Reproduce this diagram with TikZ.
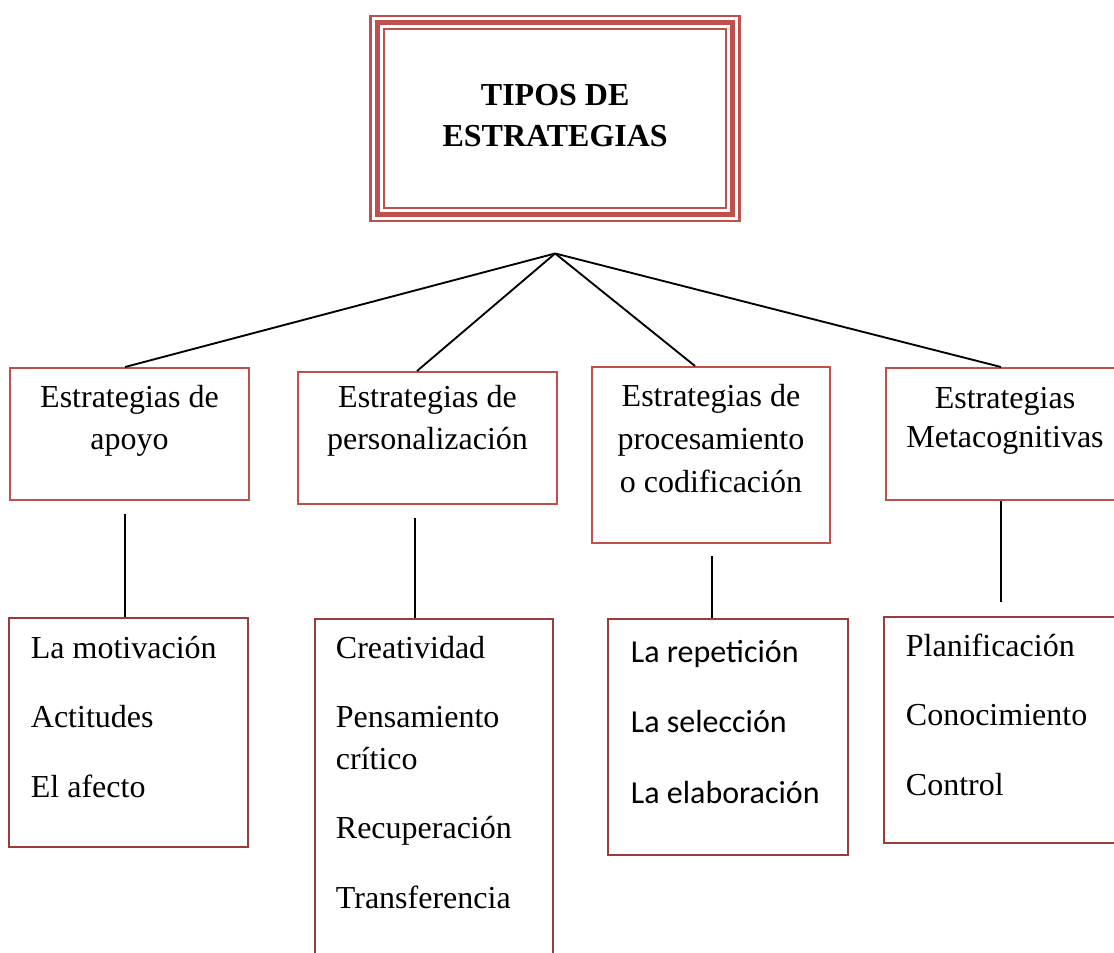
\documentclass[tikz,border=0pt]{standalone}
\usepackage{fontspec}
\setmainfont{Liberation Serif}
\newfontfamily\calibri{Carlito}
\usetikzlibrary{positioning,calc,fit}
\definecolor{boxred}{HTML}{C0504D}
\definecolor{darkred}{HTML}{983C3C}

\begin{document}
\begin{tikzpicture}[x=0.375pt, y=-0.375pt, line width=0.7pt, font=\fontsize{12}{15.5}\selectfont]
\tikzstyle{kind}=[draw=boxred, line width=0.75pt, rectangle, inner sep=0pt]
\tikzstyle{items}=[draw=darkred, line width=0.75pt, rectangle, inner sep=0pt]
\tikzstyle{caption}=[anchor=base, align=center, inner sep=0pt]
\tikzstyle{list}=[anchor=base west, align=left, inner sep=0pt, font=\fontsize{12}{26}\selectfont]
\useasboundingbox (0,0) rectangle (1114,952);

% title, triple frame
\node[kind, line width=0.94pt, fit={(370.6,15.8) (739.7,221.2)}] (title) {};
\node[kind, line width=1.9pt, fit={(377.8,22.8) (732.5,214.2)}] (title2) {};
\node[kind, fit={(383.8,29.2) (726,207.8)}] (title3) {};
\node[caption, font=\fontsize{12}{15.5}\bfseries] (titletext) at ($(title.north)+(0,132)$) {TIPOS DE\\ESTRATEGIAS};
\coordinate (hub) at ($(title.south)+(0,31)$);

% kinds of strategies (base = last line)
\node[kind, fit={(10,368) (249,500)}] (apoyo) {};
\node[kind, fit={(298,372) (557,504)}] (perso) {};
\node[kind, fit={(592,367) (830,543)}] (proce) {};
\node[kind, fit={(886,368) (1124,500)}] (meta) {};
\node[caption] (apoyotext) at ($(apoyo.north)+(0,82)$) {Estrategias de\\apoyo};
\node[caption] (persotext) at ($(perso.north)+(0,78)$) {Estrategias de\\personalización};
\node[caption, font=\fontsize{12}{16}\selectfont] (procetext) at ($(proce.north)+(0,126)$) {Estrategias de\\procesamiento\\o codificación};
\node[caption, font=\fontsize{12}{14.5}\selectfont] (metatext) at ($(meta.north)+(0,80)$) {Estrategias\\Metacognitivas};

% lists
\node[items, fit={(9,618) (248,847)}] (apoyo3) {};
\node[items, fit={(315,619) (553,980)}] (perso3) {};
\node[items, fit={(608,619) (848,855)}] (proce3) {};
\node[items, fit={(884,617) (1124,843)}] (meta3) {};
\node[list] (apoyolist) at (30,797) {La motivación\\Actitudes\\El afecto};
\node[list] (persolist) at (335,908) {Creatividad\\Pensamiento\\[-10.25pt]crítico\\Recuperación\\Transferencia};
\node[list, font=\calibri\fontsize{12}{26.4}\selectfont] (procelist) at (630,803) {La repetición\\La selección\\La elaboración};
\node[list] (metalist) at (905,795) {Planificación\\Conocimiento\\Control};

% connectors
\draw (hub) -- ($(apoyo.north)+(-4.5,0)$);
\draw (hub) -- ($(perso.north)+(-10.5,0)$);
\draw (hub) -- ($(proce.north)+(-16,0)$);
\draw (hub) -- ($(meta.north)+(-4,0)$);

\coordinate (apoyofoot) at ($(apoyo.south)+(-4.5,13)$);
\coordinate (persofoot) at ($(perso.south)+(-12.5,13)$);
\coordinate (procefoot) at ($(proce.south)+(1,12)$);
\coordinate (metafoot) at ($(meta.south)+(-4,0)$);
\draw (apoyofoot) -- (apoyofoot |- apoyo3.north);
\draw (persofoot) -- (persofoot |- perso3.north);
\draw (procefoot) -- (procefoot |- proce3.north);
\draw (metafoot) -- ($(metafoot |- meta3.north)+(0,-14)$);
\end{tikzpicture}
\end{document}
